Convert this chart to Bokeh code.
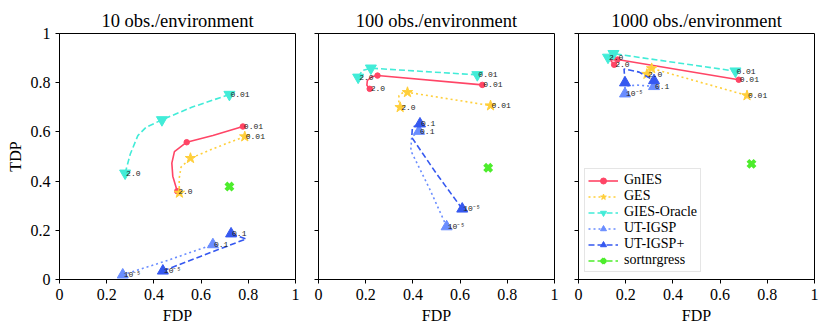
from bokeh.plotting import figure
from bokeh.layouts import row
from bokeh.models import Range1d, FixedTicker, Legend, LegendItem, PrintfTickFormatter
from bokeh.core.properties import value
from bokeh.embed import file_html
from bokeh.resources import INLINE

PANEL_TITLES = ["10 obs./environment", "100 obs./environment", "1000 obs./environment"]
TICKS = [0, 0.2, 0.4, 0.6, 0.8, 1]
TICK_LABELS = ["0", "0.2", "0.4", "0.6", "0.8", "1"]
SERIES = ["GnIES", "GES", "GIES-Oracle", "UT-IGSP", "UT-IGSP+", "sortnrgress"]

# GnIES
gnies_path_fdp = [[0.499, 0.480, 0.476, 0.487, 0.539, 0.650, 0.777],
                  [0.217, 0.205, 0.207, 0.225, 0.250, 0.694],
                  [0.151, 0.135, 0.165, 0.679]]
gnies_path_tdp = [[0.359, 0.420, 0.473, 0.520, 0.558, 0.585, 0.622],
                  [0.775, 0.790, 0.809, 0.824, 0.829, 0.791],
                  [0.873, 0.892, 0.894, 0.812]]
gnies_mark_fdp = [[0.499, 0.539, 0.777], [0.217, 0.250, 0.694], [0.151, 0.165, 0.679]]
gnies_mark_tdp = [[0.359, 0.558, 0.622], [0.775, 0.829, 0.791], [0.873, 0.894, 0.812]]
gnies_labels = [["2.0", "", "0.01"], ["2.0", "", "0.01"], ["2.0", "", "0.01"]]

# GES
ges_path_fdp = [[0.508, 0.507, 0.515, 0.555, 0.660, 0.785],
                [0.346, 0.340, 0.341, 0.355, 0.377, 0.729],
                [0.290, 0.288, 0.310, 0.714]]
ges_path_tdp = [[0.352, 0.410, 0.457, 0.493, 0.535, 0.581],
                [0.700, 0.725, 0.748, 0.758, 0.761, 0.707],
                [0.835, 0.848, 0.858, 0.748]]
ges_mark_fdp = [[0.508, 0.555, 0.785], [0.346, 0.377, 0.729], [0.290, 0.310, 0.714]]
ges_mark_tdp = [[0.352, 0.493, 0.581], [0.700, 0.761, 0.707], [0.835, 0.858, 0.748]]
ges_labels = [["", "", "0.01"], ["2.0", "", "0.01"], ["2.0", "", "0.01"]]

# GIES-Oracle
oracle_path_fdp = [[0.278, 0.300, 0.332, 0.367, 0.434, 0.560, 0.720],
                   [0.168, 0.186, 0.222, 0.673],
                   [0.125, 0.148, 0.665]]
oracle_path_tdp = [[0.432, 0.510, 0.585, 0.619, 0.649, 0.700, 0.752],
                   [0.822, 0.850, 0.859, 0.832],
                   [0.903, 0.918, 0.847]]
oracle_mark_fdp = [[0.278, 0.434, 0.720], [0.168, 0.222, 0.673], [0.125, 0.148, 0.665]]
oracle_mark_tdp = [[0.432, 0.649, 0.752], [0.822, 0.859, 0.832], [0.903, 0.918, 0.847]]
oracle_labels = [["2.0", "", "0.01"], ["2.0", "", "0.01"], ["2.0", "", "0.01"]]

# UT-IGSP
utigsp_path_fdp = [[0.268, 0.450, 0.650],
                   [0.543, 0.470, 0.391, 0.395, 0.426],
                   [0.197, 0.197, 0.250, 0.320]]
utigsp_path_tdp = [[0.019, 0.075, 0.142],
                   [0.215, 0.370, 0.524, 0.580, 0.603],
                   [0.755, 0.787, 0.790, 0.785]]
utigsp_mark_fdp = [[0.268, 0.650], [0.543, 0.426], [0.197, 0.320]]
utigsp_mark_tdp = [[0.019, 0.142], [0.215, 0.603], [0.755, 0.785]]
utigsp_labels = [["10\u207b\u2075", "0.1"], ["10\u207b\u2075", "0.1"], ["10\u207b\u2075", "0.1"]]

# UT-IGSP+
utplus_path_fdp = [[0.438, 0.600, 0.791, 0.727],
                   [0.609, 0.500, 0.395, 0.398, 0.430],
                   [0.197, 0.193, 0.257, 0.320]]
utplus_path_tdp = [[0.035, 0.095, 0.165, 0.186],
                   [0.287, 0.430, 0.578, 0.619, 0.633],
                   [0.800, 0.856, 0.843, 0.809]]
utplus_mark_fdp = [[0.438, 0.727], [0.609, 0.430], [0.197, 0.320]]
utplus_mark_tdp = [[0.035, 0.186], [0.287, 0.633], [0.800, 0.809]]
utplus_labels = [["10\u207b\u2075", "0.1"], ["10\u207b\u2075", "0.1"], ["", ""]]

# sortnrgress
sortnrgress_fdp = [0.720, 0.719, 0.733]
sortnrgress_tdp = [0.378, 0.454, 0.470]

SERIF = "Liberation Serif"

STYLES = [
    dict(color="#ff4566", dash="solid", marker="circle", size=5.5),
    dict(color="#ffcf3a", dash="2 3", marker="star", size=11),
    dict(color="#42ecd8", dash="6 3", marker="inverted_triangle", size=11),
    dict(color="#6a8dff", dash="2 3", marker="triangle", size=11),
    dict(color="#3558f0", dash="6 3", marker="triangle", size=11),
    dict(color="#4ded2c", dash="6 3", marker="x", size=10),
]

SERIES_DATA = [
    (gnies_path_fdp, gnies_path_tdp, gnies_mark_fdp, gnies_mark_tdp, gnies_labels),
    (ges_path_fdp, ges_path_tdp, ges_mark_fdp, ges_mark_tdp, ges_labels),
    (oracle_path_fdp, oracle_path_tdp, oracle_mark_fdp, oracle_mark_tdp, oracle_labels),
    (utigsp_path_fdp, utigsp_path_tdp, utigsp_mark_fdp, utigsp_mark_tdp, utigsp_labels),
    (utplus_path_fdp, utplus_path_tdp, utplus_mark_fdp, utplus_mark_tdp, utplus_labels),
]

BORDERS = [(59, 6), (17, 6), (18, 6)]


def style_axis(ax):
    ax.major_tick_in = 0
    ax.major_tick_out = 4
    ax.minor_tick_in = 0
    ax.minor_tick_out = 0
    ax.axis_line_color = "black"
    ax.major_tick_line_color = "black"
    ax.major_label_text_font = SERIF
    ax.major_label_text_font_size = "16px"
    ax.major_label_text_color = "black"
    ax.major_label_standoff = 5
    ax.axis_label_text_font = SERIF
    ax.axis_label_text_font_size = "16px"
    ax.axis_label_text_font_style = "normal"
    ax.axis_label_text_color = "black"
    ax.axis_label_standoff = 4


def make_panel(i):
    left, right = BORDERS[i]
    p = figure(frame_width=236, frame_height=246,
               x_range=Range1d(0, 1), y_range=Range1d(0, 1),
               output_backend="svg", toolbar_location=None,
               min_border_left=left, min_border_right=right,
               min_border_top=33, min_border_bottom=44,
               title=PANEL_TITLES[i])
    p.title.align = "center"
    p.title.text_font = SERIF
    p.title.text_font_size = "18.5px"
    p.title.text_font_style = "normal"
    p.title.text_color = "black"
    p.title.standoff = 5
    p.xgrid.visible = False
    p.ygrid.visible = False
    p.outline_line_color = "black"
    p.outline_line_alpha = 1
    p.outline_line_width = 1
    p.background_fill_color = "white"
    p.border_fill_color = "white"

    xa = p.xaxis[0]
    xa.ticker = FixedTicker(ticks=TICKS)
    xa.formatter = PrintfTickFormatter(format="%g")
    xa.major_label_overrides = {t: l for t, l in zip(TICKS, TICK_LABELS)}
    style_axis(xa)
    xa.axis_label = "FDP"

    ya = p.yaxis[0]
    style_axis(ya)
    if i == 0:
        ya.ticker = FixedTicker(ticks=TICKS)
        ya.formatter = PrintfTickFormatter(format="%g")
        ya.major_label_overrides = {t: l for t, l in zip(TICKS, TICK_LABELS)}
        ya.axis_label = "TDP"
    else:
        # tick marks only, no labels (shared y axis)
        ya.ticker = FixedTicker(ticks=[], minor_ticks=TICKS)
        ya.minor_tick_out = 4
        ya.minor_tick_line_color = "black"
        ya.major_label_standoff = 0

    renderers = []
    lab_x, lab_y, lab_t = [], [], []
    for s, (pf, pt, mf, mt, labs) in enumerate(SERIES_DATA):
        st = STYLES[s]
        lr = p.line(pf[i], pt[i], line_color=st["color"], line_width=1.6,
                    line_dash=st["dash"])
        sr = p.scatter(mf[i], mt[i], marker=st["marker"], size=st["size"],
                       fill_color=st["color"], line_color=st["color"], line_width=1)
        renderers.append([lr, sr])
        for x, y, t in zip(mf[i], mt[i], labs[i]):
            if t:
                lab_x.append(x)
                lab_y.append(y)
                lab_t.append(t)
    st = STYLES[5]
    glr = p.line([sortnrgress_fdp[i]], [sortnrgress_tdp[i]], line_color=st["color"],
                 line_width=1.6, line_dash=st["dash"])
    gsr = p.scatter([sortnrgress_fdp[i]], [sortnrgress_tdp[i]], marker="x", size=st["size"],
                    line_color=st["color"], line_width=4)
    renderers.append([glr, gsr])

    p.text(x=lab_x, y=lab_y, text=lab_t, text_font=value("Liberation Mono"),
           text_font_size="8px", text_align="left", text_baseline="middle",
           x_offset=1, text_color="#222222")

    if i == 2:
        items = [LegendItem(label=name, renderers=r) for name, r in zip(SERIES, renderers)]
        leg = Legend(items=items, location=(6, 7))
        leg.label_text_font = SERIF
        leg.label_text_font_size = "14px"
        leg.label_text_color = "black"
        leg.glyph_width = 30
        leg.glyph_height = 15
        leg.label_height = 15
        leg.label_standoff = 6
        leg.spacing = 0
        leg.padding = 3
        leg.margin = 0
        leg.border_line_color = "#cccccc"
        leg.border_line_width = 1
        leg.background_fill_alpha = 0.85
        p.add_layout(leg)
    return p


panels = [make_panel(i) for i in range(3)]
layout = row(*panels)
open("out.html", "w").write(file_html(layout, INLINE))
